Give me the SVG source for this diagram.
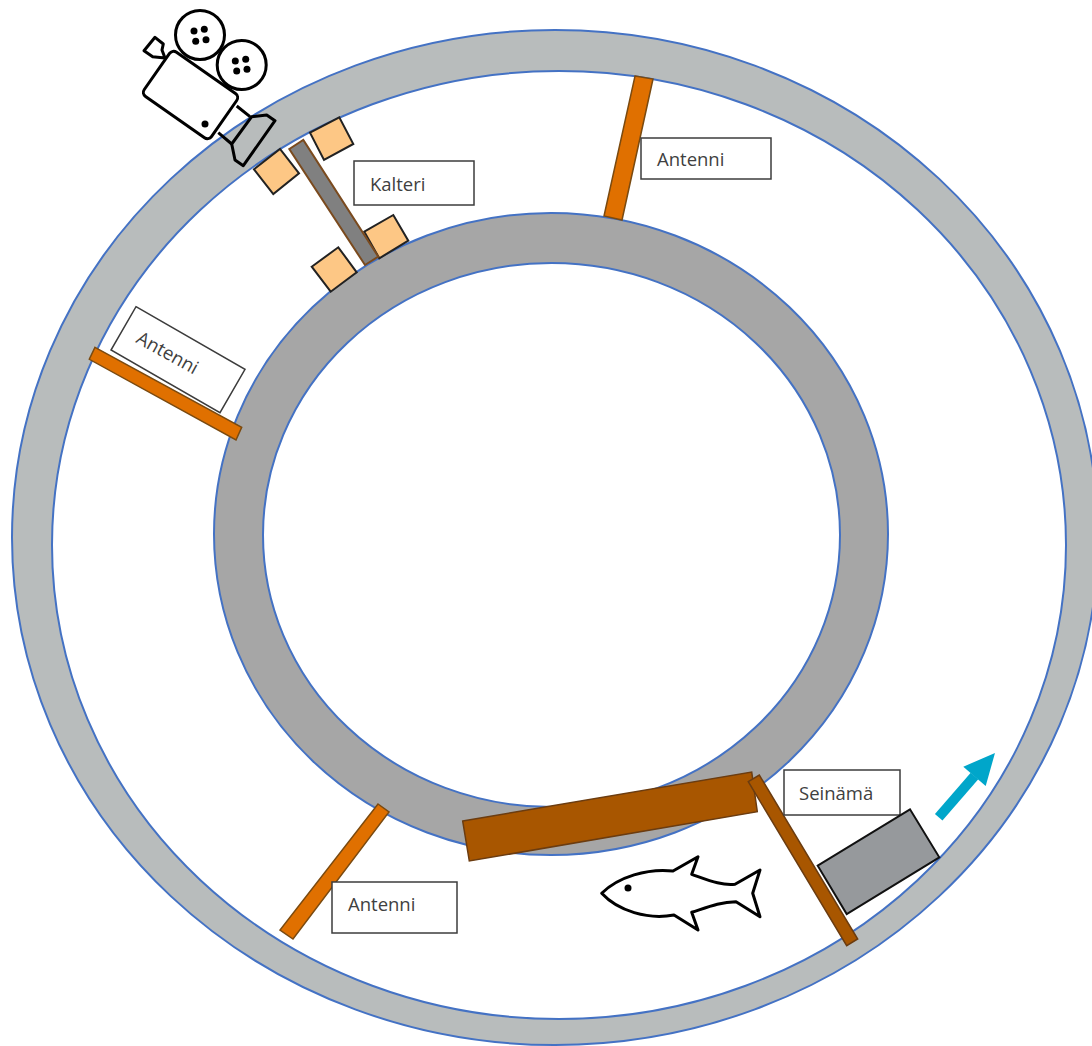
<svg xmlns="http://www.w3.org/2000/svg" width="1092" height="1046" viewBox="0 0 1092 1046">
<style>
.ring{stroke:#4472c4;stroke-width:2}
.lbl{fill:#fff;stroke:#3c3c3c;stroke-width:1.5}
.t{font-family:"Open Sans","Noto Sans",sans-serif;font-size:18.5px;fill:#404040}
.ant{fill:#e07000;stroke:#7a4a10;stroke-width:1.5}
.br{fill:#a85600;stroke:#6b3c10;stroke-width:1.5}
.pad{fill:#fdc785;stroke:#222;stroke-width:2}
.ic{fill:#fff;stroke:#000;stroke-width:3;stroke-linejoin:round}
.ln{fill:none;stroke:#000;stroke-width:3;stroke-linejoin:round}
.d{fill:#000}
</style>
<g id="outer-ring"><path class="ring" fill="#b8bcbc" fill-rule="evenodd" d="M12 537.500a543 507.500 0 1 0 1086 0a543 507.500 0 1 0 -1086 0ZM52 545a507 474 0 1 0 1014 0a507 474 0 1 0 -1014 0Z"/></g>
<g id="inner-ring"><path class="ring" fill="#a6a6a6" fill-rule="evenodd" d="M214 534a337 321 0 1 0 674 0a337 321 0 1 0 -674 0ZM263 535a288.500 272 0 1 0 577 0a288.500 272 0 1 0 -577 0Z"/></g>
<g id="antenna-top"><polygon class="ant" points="635,76 653,79 622,220 604,216"/></g>
<g id="label-antenna-top"><rect class="lbl" x="641" y="138" width="130" height="41"/><text class="t" x="657" y="166">Antenni</text></g>
<g id="label-antenna-left"><polygon class="lbl" points="136,306.700 245,369.300 220,412.700 111,350"/><text class="t" transform="translate(135 342) rotate(29)">Antenni</text></g>
<g id="antenna-left"><polygon class="ant" points="95,347.300 241.700,427.300 236,440 89.300,359.300"/></g>
<g id="antenna-bottom"><polygon class="ant" points="378,804 389,812 293,939 280,930"/></g>
<g id="label-antenna-bottom"><rect class="lbl" x="332" y="882" width="125" height="51"/><text class="t" x="348" y="911">Antenni</text></g>
<g id="pads">
<polygon class="pad" points="254,169.300 280,149 299,173.300 273.300,194"/>
<polygon class="pad" points="310,132.700 339.300,117.300 353.300,144 324,160"/>
<polygon class="pad" points="364.300,231.700 393.300,215 408.300,240.700 379.300,258.300"/>
<polygon class="pad" points="311.700,266.700 338.300,247.300 356.700,272.300 330.700,291.700"/>
</g>
<g id="grate"><polygon fill="#808080" stroke="#7a4a1e" stroke-width="2" points="289.300,149 303.300,140 378.300,256.700 365,265"/></g>
<g id="label-kalteri"><rect class="lbl" x="354" y="161" width="120" height="44"/><text class="t" x="370" y="191">Kalteri</text></g>
<g id="camera">
<polygon class="ic" points="144,50.700 155,37.300 163.300,44 162,50 165,58 152.700,56.700"/>
<circle class="ic" cx="200" cy="35" r="24.500"/><circle class="ic" cx="241.700" cy="65" r="24.500"/>
<g class="d"><circle cx="194" cy="31" r="3.500"/><circle cx="204.300" cy="29.300" r="3.500"/><circle cx="195.700" cy="41.300" r="3.500"/><circle cx="206" cy="39.700" r="3.500"/><circle cx="235.300" cy="61" r="3.500"/><circle cx="245.700" cy="59.300" r="3.500"/><circle cx="236.700" cy="71" r="3.500"/><circle cx="247" cy="69.300" r="3.500"/></g>
<rect class="ic" x="-41" y="-27" width="82" height="54" rx="5" transform="translate(190.500 95) rotate(35)"/>
<path class="ln" d="M236.700 106L250 116.700M218.300 132.700L231.700 144"/>
<polygon class="ln" points="251.700,116.700 266.700,115 275,120.700 243.300,165.700 235,160 231.700,144"/>
<circle class="d" cx="205" cy="124" r="3.500"/>
</g>
<g id="wall-large"><polygon class="br" points="462.700,821 751.700,772 757.300,811.700 469.300,861"/></g>
<g id="wall-thin"><polygon class="br" points="748.300,781.700 759.300,775 857.700,939 846.700,945.700"/></g>
<g id="label-seinama"><rect class="lbl" x="784" y="770" width="116" height="45"/><text class="t" x="799" y="800">Seinämä</text></g>
<g id="block"><polygon fill="#96999c" stroke="#111" stroke-width="2" points="817.700,865.700 910,809.300 939.300,857.300 846.700,914"/></g>
<g id="fish"><path fill="#fff" stroke="#000" stroke-width="3" stroke-linejoin="round" d="M601.700 893.300C618 877 648 868 673 871L698 856.700L691.700 874.300C708 880 722 886 735 884.300L760 870L752.700 893.300L760 916.700L736 901.700C720 902 708 907 691.700 912.300L698 930L674 915C648 920 618 911 601.700 893.300Z"/><circle class="d" cx="628" cy="888" r="3.500"/></g>
<g id="connectors"><path fill="none" stroke="#00a6ca" stroke-width="10" d="M938.700 817.300L974.500 776"/><polygon fill="#00a6ca" points="963.300,766.700 995,753 985.700,786"/></g>
</svg>
